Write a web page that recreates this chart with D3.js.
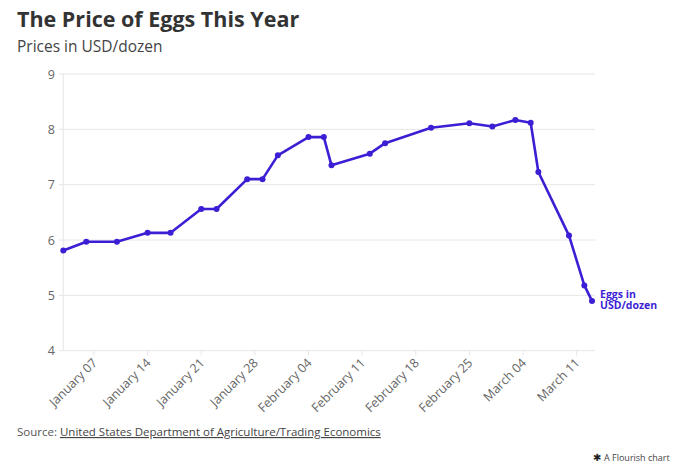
<!DOCTYPE html>
<html><head><meta charset="utf-8">
<script src="https://cdn.jsdelivr.net/npm/d3@7"></script>
<style>
body{margin:0;background:#fff;font-family:"Open Sans","Noto Sans",sans-serif;}
svg text{font-family:"Open Sans","Noto Sans",sans-serif;}
</style></head>
<body>
<svg id="c" width="680" height="472"></svg>
<script>
const dates = ["2025-01-03","2025-01-06","2025-01-10","2025-01-14","2025-01-17","2025-01-21","2025-01-23","2025-01-27","2025-01-29","2025-01-31","2025-02-04","2025-02-06","2025-02-07","2025-02-12","2025-02-14","2025-02-20","2025-02-25","2025-02-28","2025-03-03","2025-03-05","2025-03-06","2025-03-10","2025-03-12","2025-03-13"];
const prices = [5.81,5.97,5.97,6.13,6.13,6.56,6.56,7.10,7.10,7.53,7.86,7.86,7.35,7.56,7.75,8.03,8.11,8.05,8.17,8.12,7.23,6.08,5.18,4.90];
const yTicks = [4,5,6,7,8,9];
const xTickDates = ["2025-01-07","2025-01-14","2025-01-21","2025-01-28","2025-02-04","2025-02-11","2025-02-18","2025-02-25","2025-03-04","2025-03-11"];
const seriesLabel = ["Eggs in","USD/dozen"];

const parse = d3.utcParse("%Y-%m-%d");
const data = dates.map((d,i)=>({date:parse(d), v:prices[i]}));
const svg = d3.select("#c");
const color = "#3c1fd4";

const x = d3.scaleUtc().domain([parse("2025-01-03"), parse("2025-03-13")]).range([63.3, 592]);
const y = d3.scaleLinear().domain([4,9]).range([350.7, 74]);

svg.append("text").attr("x",17).attr("y",27).attr("font-size",21.5).attr("font-weight",700).attr("fill","#333").text("The Price of Eggs This Year");
svg.append("text").attr("x",17).attr("y",52).attr("font-size",15.5).attr("fill","#444").text("Prices in USD/dozen");

// grid
const g = svg.append("g");
g.selectAll("line.grid").data(yTicks).join("line").attr("class","grid")
  .attr("x1",63.3).attr("x2",595).attr("y1",d=>y(d)).attr("y2",d=>y(d))
  .attr("stroke","#e6e6e6").attr("stroke-width",1);
g.append("line").attr("x1",63.3).attr("x2",63.3).attr("y1",y(9)).attr("y2",y(4)).attr("stroke","#e6e6e6");
g.selectAll("line.yt").data(yTicks).join("line").attr("class","yt")
  .attr("x1",59).attr("x2",63.3).attr("y1",d=>y(d)).attr("y2",d=>y(d)).attr("stroke","#e6e6e6");
g.selectAll("text.yl").data(yTicks).join("text").attr("class","yl")
  .attr("x",55).attr("y",d=>y(d)+4.5).attr("text-anchor","end").attr("font-size",12.5).attr("fill","#666").text(d=>d);

// x ticks
const fmt = d3.utcFormat("%B %d");
const xt = g.selectAll("g.xt").data(xTickDates.map(parse)).join("g").attr("class","xt")
  .attr("transform",d=>`translate(${x(d)},${y(4)})`);
xt.append("line").attr("y1",0).attr("y2",5).attr("stroke","#e6e6e6");
xt.append("text").attr("transform","translate(4,13) rotate(-45)").attr("text-anchor","end")
  .attr("font-size",12.5).attr("fill","#666").text(d=>fmt(d));

// line
svg.append("path").datum(data).attr("fill","none").attr("stroke",color).attr("stroke-width",2.6)
  .attr("stroke-linejoin","round").attr("d",d3.line().x(d=>x(d.date)).y(d=>y(d.v)));
svg.selectAll("circle.pt").data(data).join("circle").attr("class","pt")
  .attr("cx",d=>x(d.date)).attr("cy",d=>y(d.v)).attr("r",3).attr("fill",color);

const last = data[data.length-1];
const lbl = svg.append("text").attr("x",x(last.date)+8).attr("y",y(last.v)-3).attr("font-size",10.5).attr("font-weight",700).attr("fill",color);
seriesLabel.forEach((t,i)=>lbl.append("tspan").attr("x",x(last.date)+8).attr("dy",i?11.5:0).text(t));

// footer
const src = svg.append("text").attr("x",17).attr("y",436).attr("font-size",11.5).attr("fill","#555");
src.append("tspan").text("Source: ");
src.append("tspan").attr("text-decoration","underline").attr("fill","#444").text("United States Department of Agriculture/Trading Economics");
svg.append("text").attr("x",593).attr("y",461).attr("font-size",10).attr("fill","#222").text("\u2731");
svg.append("text").attr("x",604).attr("y",461).attr("font-size",9).attr("fill","#444").text("A Flourish chart");
</script>
</body></html>
